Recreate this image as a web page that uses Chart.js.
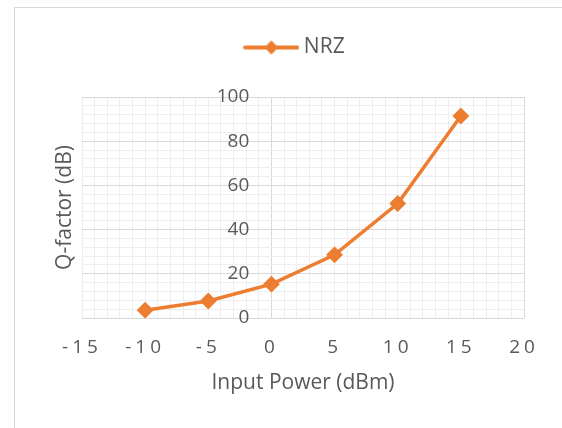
<!DOCTYPE html>
<html>
<head>
<meta charset="utf-8">
<script src="https://cdn.jsdelivr.net/npm/chart.js@4/dist/chart.umd.min.js"></script>
<style>
  html, body { margin: 0; padding: 0; background: #fff; overflow: hidden; }
  #frame { position: absolute; left: 14px; top: 7px; width: 620px; height: 480px; border: 1px solid #d9d9d9; }
  #wrap { position: absolute; left: 0; top: 0; width: 562px; height: 428px; }
</style>
</head>
<body>
<div id="frame"></div>
<div id="wrap"><canvas id="qChart" width="562" height="428"></canvas></div>
<script>
// values
const inputPower = [-10, -5, 0, 5, 10, 15];
const qFactor = [3.5, 7.7, 15.3, 28.6, 51.8, 91.4];
const xTickLabels = [-15, -10, -5, 0, 5, 10, 15, 20];
const yTickLabels = [0, 20, 40, 60, 80, 100];

const orange = '#ED7D31';
const textGray = '#595959';
const majorGrid = '#d9d9d9';
const minorGrid = '#eeeeee';
const tickFont = { family: "'Open Sans', sans-serif", size: 19 };
const titleFont = { family: "'Open Sans', sans-serif", size: 21 };

// legend icon: line with a diamond in the middle
function legendIcon() {
    const c = document.createElement('canvas');
    c.width = 56; c.height = 18;
    const g = c.getContext('2d');
    g.strokeStyle = orange;
    g.lineWidth = 4;
    g.lineCap = 'round';
    g.beginPath(); g.moveTo(2, 9); g.lineTo(54, 9); g.stroke();
    g.fillStyle = orange;
    g.beginPath(); g.moveTo(28, 2); g.lineTo(35, 9); g.lineTo(28, 16); g.lineTo(21, 9); g.closePath(); g.fill();
    return c;
}
const icon = legendIcon();

// Excel spreads the x tick labels out a bit
const spacedXTicks = {
    id: 'spacedXTicks',
    beforeDraw(chart) {
        const s = chart.scales.x;
        if (s._spaced) return;
        const orig = s.drawLabels.bind(s);
        s.drawLabels = function (area) {
            chart.ctx.save();
            chart.ctx.letterSpacing = '4px';
            orig(area);
            chart.ctx.restore();
        };
        s._spaced = true;
    }
};

const points = inputPower.map((x, i) => ({ x: x, y: qFactor[i] }));

new Chart(document.getElementById('qChart').getContext('2d'), {
    type: 'scatter',
    data: {
        datasets: [{
            label: 'NRZ',
            data: points,
            showLine: true,
            borderColor: orange,
            backgroundColor: orange,
            borderWidth: 3.5,
            pointStyle: 'rectRot',
            pointRadius: 7,
            pointBorderWidth: 2,
            pointBackgroundColor: orange,
            pointBorderColor: orange,
            xAxisID: 'x',
            yAxisID: 'y'
        }]
    },
    plugins: [spacedXTicks],
    options: {
        responsive: false,
        animation: false,
        layout: { padding: { top: 27, left: 32, right: 0, bottom: 0 } },
        plugins: {
            tooltip: { enabled: false },
            legend: {
                position: 'top',
                labels: {
                    usePointStyle: true,
                    pointStyleWidth: 44,
                    padding: 10,
                    color: textGray,
                    font: titleFont,
                    generateLabels: chart => [{
                        text: 'NRZ',
                        pointStyle: icon,
                        fontColor: textGray,
                        datasetIndex: 0,
                        hidden: false,
                        lineWidth: 0
                    }]
                }
            }
        },
        scales: {
            x: {
                type: 'linear',
                position: 'bottom',
                min: -15,
                max: 20,
                afterFit: s => { s.height = 110; },
                ticks: {
                    stepSize: 1,
                    autoSkip: false,
                    maxRotation: 0,
                    padding: 18,
                    color: textGray,
                    font: tickFont,
                    callback: v => xTickLabels.includes(v) ? String(v) : ''
                },
                grid: {
                    drawTicks: false,
                    color: ctx => (ctx.tick && (ctx.tick.value === 0 || ctx.tick.value === 20)) ? majorGrid : minorGrid
                },
                border: { display: false },
                title: {
                    display: true,
                    text: 'Input Power (dBm)',
                    color: textGray,
                    font: titleFont,
                    padding: { top: 0, bottom: 32 }
                }
            },
            xTop: {
                type: 'linear',
                position: 'top',
                min: -15,
                max: 20,
                ticks: { display: false },
                grid: { display: false },
                border: { display: false },
                afterFit: s => { s.height = 29; }
            },
            y: {
                type: 'linear',
                position: 'left',
                min: 0,
                max: 100,
                afterFit: s => { s.width = 50; },
                ticks: { stepSize: 4, display: false, maxTicksLimit: 100 },
                grid: {
                    drawTicks: false,
                    color: ctx => (ctx.tick && ctx.tick.value % 20 === 0) ? majorGrid : minorGrid
                },
                border: { display: false },
                title: {
                    display: true,
                    text: 'Q-factor (dB)',
                    color: textGray,
                    font: titleFont,
                    padding: { top: 20, bottom: 0 }
                }
            },
            // value labels sit just left of the x = 0 line
            yLabels: {
                type: 'linear',
                position: { x: -1.75 },
                min: 0,
                max: 100,
                ticks: {
                    stepSize: 20,
                    color: textGray,
                    font: tickFont,
                    callback: v => yTickLabels.includes(v) ? String(v) : ''
                },
                grid: { display: false, drawTicks: false },
                border: { display: false }
            },
            yRight: {
                type: 'linear',
                position: 'right',
                min: 0,
                max: 100,
                ticks: { display: false },
                grid: { display: false },
                border: { display: false },
                afterFit: s => { s.width = 38; }
            }
        }
    }
});
</script>
</body>
</html>
